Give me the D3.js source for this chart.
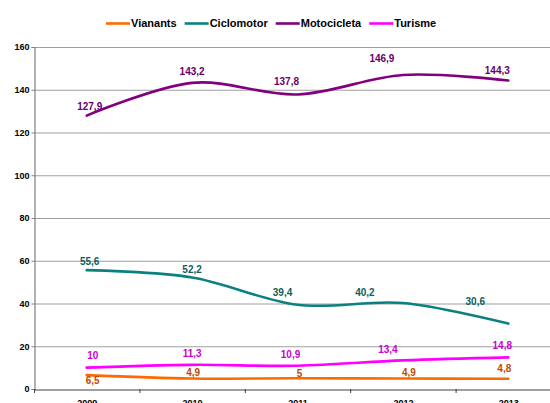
<!DOCTYPE html>
<html><head><meta charset="utf-8">
<script src="https://cdn.jsdelivr.net/npm/d3@7"></script>
<style>body{margin:0;background:#fff}svg{display:block;font-family:"Liberation Sans",Arial,sans-serif}</style>
</head><body><svg id="c" width="550" height="403"></svg>
<script>
const years = ["2009","2010","2011","2012","2013"];
const seriesNames = ["Vianants","Ciclomotor","Motocicleta","Turisme"];
const vianants = [6.5, 4.9, 5, 4.9, 4.8];
const ciclomotor = [55.6, 52.2, 39.4, 40.2, 30.6];
const motocicleta = [127.9, 143.2, 137.8, 146.9, 144.3];
const turisme = [10, 11.3, 10.9, 13.4, 14.8];
const yTicks = [0,20,40,60,80,100,120,140,160];
const lineColors = ["#ff6a00","#0a8080","#800080","#ff00ff"];
const labelColors = ["#c04a00","#10605e","#6a006a","#cc00cc"];
// label nudges (dx, dy) in px, per series per point
const labelNudge = [
  [[6,5],[1,-6],[2,-5],[6,-6],[-4,-10]],
  [[3,-9],[0,-8],[-15,-12],[-38,-11],[-33,-22]],
  [[3,-9],[0,-11],[-11,-13],[-21,-17],[-11,-10]],
  [[6,-12],[0,-11],[-7,-11],[-15,-11],[-6,-12]]
];
const allValues = [vianants, ciclomotor, motocicleta, turisme];

const svg = d3.select("#c");
const pLeft = 34, pRight = 561, pTop = 47, pBottom = 389;
const x = d3.scalePoint().domain(years).range([pLeft, pRight]).padding(0.5);
const y = d3.scaleLinear().domain([0,160]).range([pBottom, pTop]);
const step = x.step();

// gridlines
svg.append("g").selectAll("line").data(yTicks.filter(d=>d>0)).join("line")
  .attr("x1", pLeft).attr("x2", pRight).attr("y1", d=>y(d)+0.5).attr("y2", d=>y(d)+0.5)
  .attr("stroke", "#a0a0a0").attr("stroke-width", 1.2);

// y axis
const yAxis = d3.axisLeft(y).tickValues(yTicks).tickSize(3).tickPadding(2).tickFormat(d3.format("d"));
const gy = svg.append("g").attr("transform", `translate(${pLeft+0.5},0)`).call(yAxis);
gy.select(".domain").attr("stroke", "#808080").attr("stroke-width", 1.2);
gy.selectAll(".tick line").attr("stroke", "#808080");
gy.selectAll(".tick text").attr("font-size", 9).attr("font-weight", "bold").attr("fill", "#000");

// x axis
const gx = svg.append("g").attr("transform", `translate(0,${pBottom+0.5})`).call(d3.axisBottom(x).tickSize(0).tickPadding(10));
gx.select(".domain").attr("stroke", "#404040").attr("stroke-width", 1.2);
gx.selectAll(".tick text").attr("font-size", 9).attr("font-weight", "bold").attr("fill", "#000");
svg.append("g").selectAll("line").data(d3.range(years.length+1)).join("line")
  .attr("x1", i=>pLeft+i*step+0.5).attr("x2", i=>pLeft+i*step+0.5)
  .attr("y1", pBottom).attr("y2", pBottom+4).attr("stroke", "#404040");

// lines
const line = d3.line().x((d,i)=>x(years[i])).y(d=>y(d)).curve(d3.curveCardinal.tension(0));
allValues.forEach((vals, s) => {
  svg.append("path").datum(vals).attr("d", line).attr("fill","none")
    .attr("stroke", lineColors[s]).attr("stroke-width", 2.6).attr("stroke-linecap","round");
});
// labels
const fmt = v => String(v).replace(".", ",");
allValues.forEach((vals, s) => {
  svg.append("g").selectAll("text").data(vals).join("text")
    .attr("x", (d,i)=>x(years[i]) + labelNudge[s][i][0])
    .attr("y", (d,i)=>y(d) + labelNudge[s][i][1])
    .attr("text-anchor","middle").attr("dominant-baseline","central")
    .attr("font-size", 10).attr("font-weight","bold").attr("fill", labelColors[s])
    .text(fmt);
});

// legend
const lg = svg.append("g").attr("transform","translate(106,23)");
let lx = 0;
seriesNames.forEach((n, s) => {
  lg.append("line").attr("x1", lx).attr("x2", lx+24).attr("y1",0.5).attr("y2",0.5)
    .attr("stroke", lineColors[s]).attr("stroke-width", 2.6);
  const t = lg.append("text").attr("x", lx+25).attr("y", 0).attr("dominant-baseline","central")
    .attr("font-size", 11).attr("font-weight","bold").attr("fill","#000").text(n);
  lx += 25 + t.node().getComputedTextLength() + 8;
});
</script></body></html>
